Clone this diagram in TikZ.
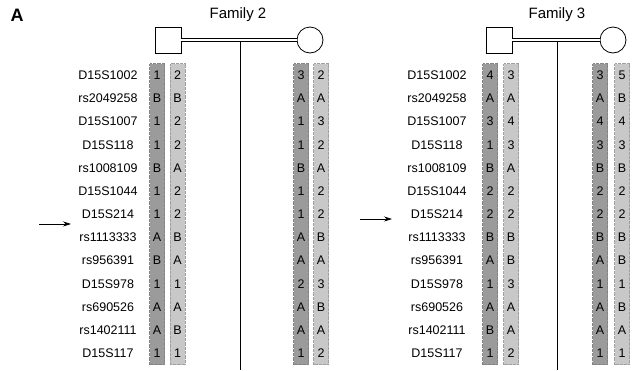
\documentclass[tikz,border=0pt]{standalone}
\usepackage{fontspec}
\setmainfont{Liberation Sans}
\usetikzlibrary{arrows.meta}
\definecolor{darkbar}{RGB}{155,155,155}
\definecolor{lightbar}{RGB}{200,200,200}
\begin{document}
\begin{tikzpicture}[x=1pt,y=-1pt,
  marker/.style={font=\fontsize{12.5}{14}\selectfont, anchor=base, inner sep=0},
  allele/.style={font=\fontsize{12.5}{14}\selectfont, anchor=base, inner sep=0},
  darkcol/.style={fill=darkbar, draw=darkbar!85!black, densely dotted, line width=0.3pt, minimum width=15pt, minimum height=301pt, inner sep=0},
  lightcol/.style={fill=lightbar, draw=lightbar!80!black, densely dotted, line width=0.3pt, minimum width=15pt, minimum height=301pt, inner sep=0},
  male/.style={draw, line width=0.8pt, minimum size=26pt, inner sep=0},
  female/.style={draw, circle, line width=0.8pt, minimum size=26pt, inner sep=0},
  marriage/.style={double, double distance=2.2pt, line width=0.7pt},
  descent/.style={line width=0.8pt},
  famlabel/.style={font=\fontsize{15}{17}\selectfont},
  panel/.style={font=\fontsize{18}{20}\selectfont\bfseries},
  pointer/.style={-{Stealth[length=8pt,width=5pt]}, line width=0.6pt}
]
\useasboundingbox (0,0) rectangle (632,370);
\node[panel] (A) at (17,15) {A};
% ---------- Family 2 ----------
\node[famlabel] (fam2) at (238,15) {Family 2};
\node[male] (f2dad) at (168,40) {};
\node[female] (f2mom) at (310,40) {};
\draw[marriage] (f2dad.east) -- (f2mom.west);
\coordinate (f2top) at (240,41.5);
\coordinate (f2bot) at (240,370);
\draw[descent] (f2top) -- (f2bot);
\node[darkcol] (b2a) at (157,214) {};
\node[lightcol] (b2b) at (177.5,214) {};
\node[darkcol] (b2c) at (301,214) {};
\node[lightcol] (b2d) at (321,214) {};
\foreach \n [count=\i] in {D15S1002,rs2049258,D15S1007,D15S118,rs1008109,D15S1044,D15S214,rs1113333,rs956391,D15S978,rs690526,rs1402111,D15S117}
  \node[marker] (m2\i) at (108,{79.5+23.17*(\i-1)}) {\n};
\foreach \a [count=\i] in {1,B,1,1,B,1,1,A,B,1,A,A,1}
  \node[allele] (p2a\i) at (157,{79.5+23.17*(\i-1)}) {\a};
\foreach \a [count=\i] in {2,B,2,2,A,2,2,B,A,1,A,B,1}
  \node[allele] (p2b\i) at (177.5,{79.5+23.17*(\i-1)}) {\a};
\foreach \a [count=\i] in {3,A,1,1,B,1,1,A,A,2,A,A,1}
  \node[allele] (p2c\i) at (301,{79.5+23.17*(\i-1)}) {\a};
\foreach \a [count=\i] in {2,A,3,2,A,2,2,B,A,3,B,A,2}
  \node[allele] (p2d\i) at (321,{79.5+23.17*(\i-1)}) {\a};
\coordinate (ar2s) at (39,224);
\coordinate (ar2e) at (71,224);
\draw[pointer] (ar2s) -- (ar2e);
% ---------- Family 3 ----------
\node[famlabel] (fam3) at (557,15) {Family 3};
\node[male] (f3dad) at (499,40) {};
\node[female] (f3mom) at (613,40) {};
\draw[marriage] (f3dad.east) -- (f3mom.west);
\coordinate (f3top) at (557,41.5);
\coordinate (f3bot) at (557,370);
\draw[descent] (f3top) -- (f3bot);
\node[darkcol] (b3a) at (490,214) {};
\node[lightcol] (b3b) at (511,214) {};
\node[darkcol] (b3c) at (600,214) {};
\node[lightcol] (b3d) at (622,214) {};
\foreach \n [count=\i] in {D15S1002,rs2049258,D15S1007,D15S118,rs1008109,D15S1044,D15S214,rs1113333,rs956391,D15S978,rs690526,rs1402111,D15S117}
  \node[marker] (m3\i) at (437,{79.5+23.17*(\i-1)}) {\n};
\foreach \a [count=\i] in {4,A,3,1,B,2,2,B,A,1,A,B,1}
  \node[allele] (p3a\i) at (490,{79.5+23.17*(\i-1)}) {\a};
\foreach \a [count=\i] in {3,A,4,3,A,2,2,B,B,3,A,A,2}
  \node[allele] (p3b\i) at (511,{79.5+23.17*(\i-1)}) {\a};
\foreach \a [count=\i] in {3,A,4,3,B,2,2,B,A,1,A,A,1}
  \node[allele] (p3c\i) at (600,{79.5+23.17*(\i-1)}) {\a};
\foreach \a [count=\i] in {5,B,4,3,B,2,2,B,B,1,B,A,1}
  \node[allele] (p3d\i) at (622,{79.5+23.17*(\i-1)}) {\a};
\coordinate (ar3s) at (360,219);
\coordinate (ar3e) at (392,219);
\draw[pointer] (ar3s) -- (ar3e);
\end{tikzpicture}
\end{document}
